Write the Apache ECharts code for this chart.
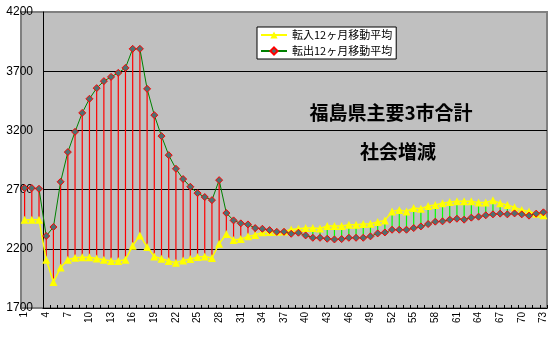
<!DOCTYPE html>
<html>
<head>
<meta charset="utf-8">
<script src="https://cdn.jsdelivr.net/npm/echarts@6/dist/echarts.min.js"></script>
<style>
html,body{margin:0;padding:0;background:#fff;}
#chart{width:557px;height:337px;}
</style>
</head>
<body>
<div id="chart"></div>
<script>
const categories = ['1','2','3','4','5','6','7','8','9','10','11','12','13','14','15','16','17','18','19','20',
  '21','22','23','24','25','26','27','28','29','30','31','32','33','34','35','36','37','38','39','40',
  '41','42','43','44','45','46','47','48','49','50','51','52','53','54','55','56','57','58','59','60',
  '61','62','63','64','65','66','67','68','69','70','71','72','73'];

// 転入12ヶ月移動平均
const tennyu = [2445,2445,2445,2108,1919,2043,2108,2125,2128,2128,2119,2108,2097,2097,2108,2226,2313,2215,2136,2116,
  2097,2083,2102,2113,2130,2136,2122,2243,2325,2274,2282,2305,2316,2339,2341,2345,2347,2364,2370,2375,
  2375,2372,2392,2392,2392,2403,2403,2409,2412,2426,2440,2516,2528,2516,2545,2539,2562,2570,2584,2596,
  2601,2601,2601,2590,2590,2610,2584,2570,2550,2528,2516,2497,2483];

// 転出12ヶ月移動平均
const tenshutsu = [2713,2713,2707,2308,2384,2766,3017,3188,3348,3467,3557,3616,3652,3686,3728,3889,3889,3551,3329,3152,
  2991,2876,2789,2724,2670,2637,2611,2780,2502,2440,2415,2406,2375,2369,2358,2343,2344,2327,2336,2313,
  2293,2293,2285,2279,2282,2293,2293,2293,2305,2330,2338,2361,2361,2361,2375,2389,2409,2429,2432,2446,
  2454,2446,2463,2471,2483,2491,2497,2491,2499,2491,2480,2497,2508];

const seriesNames = ['転入12ヶ月移動平均', '転出12ヶ月移動平均'];
const titleLines = ['福島県主要3市合計', '社会増減'];
const yMin = 1700, yMax = 4200, yStep = 500;
const axisCrossIndex = 3; // value axis crosses at category "4"

const chart = echarts.init(document.getElementById('chart'), null, {renderer: 'canvas'});

const diffData = categories.map((c, i) => [i, tenshutsu[i], tennyu[i]]);

const option = {
  animation: false,
  backgroundColor: '#ffffff',
  textStyle: {fontFamily: "'Liberation Sans', Arial, 'Noto Sans CJK JP', sans-serif", color: '#000'},
  title: [
    {text: titleLines[0], left: 391, top: 103, textAlign: 'center', padding: 0,
     textStyle: {fontSize: 19, fontWeight: 'bold', color: '#000', fontFamily: "'Noto Sans CJK JP'", lineHeight: 20}},
    {text: titleLines[1], left: 398, top: 142, textAlign: 'center', padding: 0,
     textStyle: {fontSize: 19, fontWeight: 'bold', color: '#000', fontFamily: "'Noto Sans CJK JP'", lineHeight: 20}}
  ],
  legend: {
    data: seriesNames,
    orient: 'vertical',
    left: 257, top: 27,
    padding: [2, 4, 2, 3],
    itemGap: 4,
    itemWidth: 26,
    itemHeight: 9,
    backgroundColor: '#ffffff',
    borderColor: '#000',
    borderWidth: 1,
    borderRadius: 0,
    textStyle: {fontSize: 11, color: '#000', fontFamily: "'Noto Sans CJK JP'", lineHeight: 12}
  },
  grid: [
    {left: 21, right: 10, top: 12, bottom: 29, show: true, backgroundColor: '#c0c0c0', borderColor: '#808080', borderWidth: 2},
    {left: 43, right: 10, top: 12, bottom: 29}
  ],
  xAxis: [
    {gridIndex: 0, type: 'category', data: categories, boundaryGap: true,
     axisLine: {show: false}, axisTick: {show: false}, splitLine: {show: false},
     axisLabel: {interval: 2, rotate: 90, fontSize: 10, margin: 4, color: '#000'}},
    {gridIndex: 1, type: 'category', data: categories.slice(axisCrossIndex), boundaryGap: true,
     axisLine: {show: true, lineStyle: {color: '#000', width: 1}},
     axisTick: {show: true, inside: true, length: 3, interval: 0, lineStyle: {color: '#000'}},
     axisLabel: {show: false}, splitLine: {show: false}}
  ],
  yAxis: [
    {gridIndex: 0, type: 'value', min: yMin, max: yMax, interval: yStep,
     axisLine: {show: false}, axisTick: {show: false}, axisLabel: {show: false}, splitLine: {show: false}},
    {gridIndex: 1, type: 'value', min: yMin, max: yMax, interval: yStep,
     axisLine: {show: true, lineStyle: {color: '#000', width: 1}},
     axisTick: {show: false},
     axisLabel: {fontSize: 12, margin: 10, color: '#000', formatter: function (v) { return String(v); }},
     splitLine: {show: true, showMaxLine: false, showMinLine: false, lineStyle: {color: '#000', width: 1}}}
  ],
  series: [
    {
      type: 'custom', name: 'diff', xAxisIndex: 0, yAxisIndex: 0, z: 2,
      encode: {x: 0, y: [1, 2]},
      data: diffData,
      renderItem: function (params, api) {
        const i = api.value(0);
        const a = api.coord([i, api.value(1)]);
        const b = api.coord([i, api.value(2)]);
        const up = api.value(1) >= api.value(2);
        return {
          type: 'line',
          shape: {x1: a[0], y1: a[1], x2: b[0], y2: b[1]},
          style: {stroke: up ? '#ff0000' : '#00ff00', lineWidth: 1.2}
        };
      }
    },
    {
      type: 'line', name: seriesNames[0], xAxisIndex: 0, yAxisIndex: 0, z: 3,
      data: tennyu,
      symbol: 'triangle', symbolSize: 8, showAllSymbol: true,
      itemStyle: {color: '#ffff00'},
      lineStyle: {color: '#ffff00', width: 1.5}
    },
    {
      type: 'line', name: seriesNames[1], xAxisIndex: 0, yAxisIndex: 0, z: 4,
      data: tenshutsu,
      symbol: 'diamond', symbolSize: 7, showAllSymbol: true,
      itemStyle: {color: '#4f7070', borderColor: '#ff0000', borderWidth: 1},
      lineStyle: {color: '#008000', width: 1}
    }
  ]
};
chart.setOption(option);
</script>
</body>
</html>
